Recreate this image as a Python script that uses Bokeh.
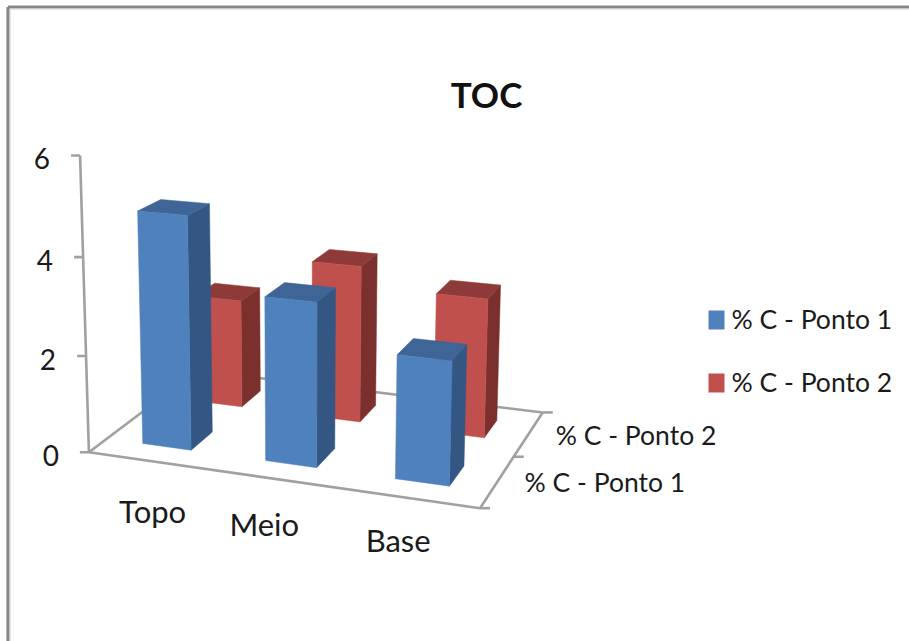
import numpy as np
from bokeh.embed import file_html
from bokeh.resources import INLINE
from bokeh.plotting import figure
from bokeh.models import Range1d
from bokeh.core.properties import value

# Chart content
title = "TOC"
categories = ["Topo", "Meio", "Base"]
series_names = ["% C - Ponto 1", "% C - Ponto 2"]
ponto_1 = [4.8, 3.33, 2.47]
ponto_2 = [2.35, 3.35, 2.93]
value_ticks = [0, 2, 4, 6]

# Face colours per series: front, side, top
blue_faces = ("#4f81bd", "#335682", "#3e6596")
red_faces = ("#c0504d", "#7b302e", "#8e3a38")
axis_color = "#a0a0a0"
frame_color = "#878787"
text_color = "#1a1a1a"
font = value("Lato")

# Perspective camera: (category, series, value, 1) -> homogeneous page position
CAMERA = np.array([
    [117.43088563513828, 68.66749905847328, -2.0066205479823145, 88.41679169515187],
    [4.922603319840334, -13.690636635371593, -50.49995045755492, 451.7791790465843],
    [-0.027009160171218127, 0.07355163585221547, -0.006688735159941049, 1.0],
])
BAR_GAP = 0.3
BAR_SPAN = 0.4
# Label nudges away from the floor edge, in pixels
CATEGORY_LABEL_SHIFT = [(3, 50), (-12, 45), (-12, 42)]
SERIES_LABEL_SHIFT = (27, 1)


def project(cat, ser, val):
    h = CAMERA @ np.array([cat, ser, val, 1.0])
    return h[0] / h[2], h[1] / h[2]


def polygon(corners):
    pts = [project(*c) for c in corners]
    return [q[0] for q in pts], [q[1] for q in pts]


p = figure(width=909, height=641, output_backend="svg", toolbar_location=None,
           x_range=Range1d(0, 909), y_range=Range1d(641, 0), min_border=0,
           x_axis_location=None, y_axis_location=None, outline_line_color=None,
           background_fill_color="white", border_fill_color="white")
p.grid.visible = False

# Outer chart frame (only its top and left edges fall inside the page)
p.line([7.5, 7.5], [641, 6.5], line_color=frame_color, line_width=3.2)
p.line([7.5, 909], [6.5, 6.5], line_color=frame_color, line_width=3.2)
p.line([9.5, 9.5], [641, 8.5], line_color="#cfcfcf", line_width=1)
p.line([9.5, 909], [8.5, 8.5], line_color="#cfcfcf", line_width=1)

# Floor outline and the value axis
n_cat, n_ser = len(categories), len(series_names)
for a, b in [((0, 0, 0), (n_cat, 0, 0)), ((n_cat, 0, 0), (n_cat, n_ser, 0)),
             ((n_cat, n_ser, 0), (0, n_ser, 0)), ((0, n_ser, 0), (0, 0, 0)),
             ((0, 0, 0), (0, 0, max(value_ticks)))]:
    xs, ys = polygon([a, b])
    p.line(xs, ys, line_color=axis_color, line_width=2.6)

# Value ticks and labels
for v in value_ticks:
    x, y = project(0, 0, v)
    p.line([x - 9, x], [y, y], line_color=axis_color, line_width=2.6)
    p.text([x - 30], [y + 3], text=[str(v)], text_font=font, text_font_size="28px",
           text_align="right", text_baseline="middle", text_color=text_color)

# Series-depth ticks and labels
for j in range(n_ser + 1):
    x, y = project(n_cat, j, 0)
    p.line([x, x + 10], [y, y], line_color=axis_color, line_width=2.6)
for j, name in enumerate(series_names):
    x, y = project(n_cat, j + 0.5, 0)
    p.text([x + SERIES_LABEL_SHIFT[0]], [y + SERIES_LABEL_SHIFT[1]], text=[name], text_font=font,
           text_font_size="26.5px", text_align="left", text_baseline="middle", text_color=text_color)

# Category labels below the front edge of the floor
for i, name in enumerate(categories):
    x, y = project(i + 0.5, 0, 0)
    dx, dy = CATEGORY_LABEL_SHIFT[i]
    p.text([x + dx], [y + dy], text=[name], text_font=font, text_font_size="31px",
           text_align="center", text_baseline="middle", text_color=text_color)


def draw_bar(i, j, v, faces):
    x0, x1 = i + BAR_GAP, i + BAR_GAP + BAR_SPAN
    y0, y1 = j + BAR_GAP, j + BAR_GAP + BAR_SPAN
    shapes = [
        polygon([(x1, y0, 0), (x1, y1, 0), (x1, y1, v), (x1, y0, v)]),
        polygon([(x0, y0, v), (x1, y0, v), (x1, y1, v), (x0, y1, v)]),
        polygon([(x0, y0, 0), (x1, y0, 0), (x1, y0, v), (x0, y0, v)]),
    ]
    colors = [faces[1], faces[2], faces[0]]
    p.patches([s[0] for s in shapes], [s[1] for s in shapes],
              fill_color=colors, line_color=colors, line_width=0.5)


# Back row first so that the front row overlaps it
for i, v in enumerate(ponto_2):
    draw_bar(i, 1, v, red_faces)
for i, v in enumerate(ponto_1):
    draw_bar(i, 0, v, blue_faces)

# Legend
for name, faces, cy in zip(series_names, (blue_faces, red_faces), (319.5, 382.5)):
    p.quad(left=[708], right=[724], top=[cy - 9.5], bottom=[cy + 9.5],
           fill_color=faces[0], line_color=None)
    p.text([731], [cy - 1], text=[name], text_font=font, text_font_size="26.5px",
           text_align="left", text_baseline="middle", text_color=text_color)

# Title
p.text([486], [93], text=[title], text_font=font, text_font_style="bold",
       text_font_size="35px", text_align="center", text_baseline="middle", text_color="#111111")

open("out.html", "w").write(file_html(p, INLINE))
